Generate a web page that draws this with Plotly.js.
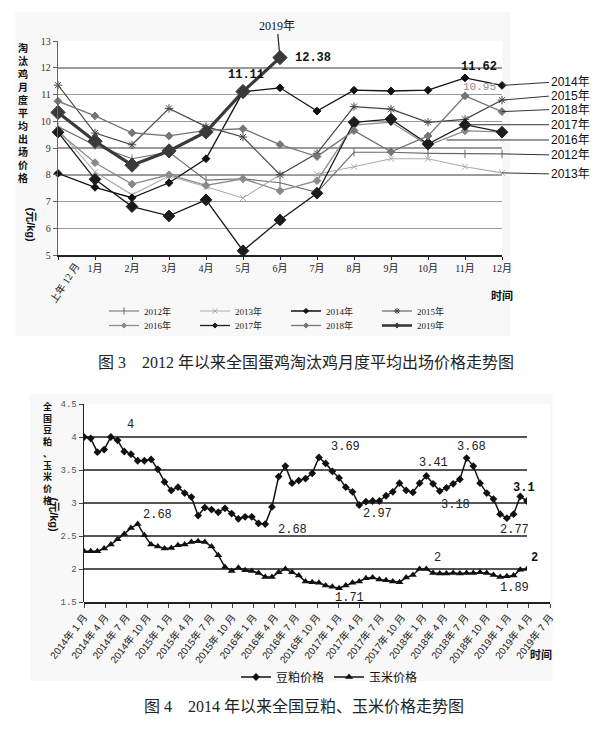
<!DOCTYPE html>
<html><head><meta charset="utf-8">
<script src="https://cdn.plot.ly/plotly-3.0.1.min.js"></script>
<style>html,body{margin:0;padding:0;background:#fff}#chart{width:600px;height:735px}</style>
</head><body><div id="chart"></div>
<script>
// ===== Figure 3: culled-hen monthly price (元/kg) =====
const months3 = ["上年12月","1月","2月","3月","4月","5月","6月","7月","8月","9月","10月","11月","12月"];
const monthTicks3 = ["","1月","2月","3月","4月","5月","6月","7月","8月","9月","10月","11月","12月"];
const p2012 = [9.80, 9.10, 8.60, 8.85, 7.80, 7.85, 7.70, 7.34, 8.84, 8.84, 8.80, 8.78, 8.78];
const p2013 = [9.70, 8.10, 7.25, 7.95, 7.55, 7.13, 8.00, 8.02, 8.30, 8.60, 8.60, 8.30, 8.07];
const p2014 = [8.05, 7.53, 7.14, 7.70, 8.60, 11.10, 11.25, 10.38, 11.16, 11.13, 11.16, 11.62, 11.34];
const p2015 = [11.35, 9.56, 9.12, 10.48, 9.80, 9.41, 8.00, 8.80, 10.55, 10.45, 9.96, 10.07, 10.79];
const p2016 = [9.60, 8.45, 7.65, 8.00, 7.60, 7.85, 7.40, 7.78, 9.86, 9.97, 9.10, 9.64, 9.60];
const p2017 = [9.59, 7.83, 6.81, 6.46, 7.06, 5.16, 6.31, 7.31, 9.96, 10.08, 9.15, 9.87, 9.59];
const p2018 = [10.75, 10.20, 9.57, 9.45, 9.66, 9.72, 9.13, 8.68, 9.65, 8.86, 9.45, 10.95, 10.36];
const p2019 = [10.33, 9.25, 8.36, 8.89, 9.60, 11.11, 12.38];

// ===== Figure 4: soybean meal & corn price (元/kg), monthly from 2014-01 =====
const soyMeal = [4.00,3.98,3.77,3.81,4.00,3.95,3.78,3.74,3.64,3.64,3.66,3.51,3.32,3.19,3.24,3.15,3.09,2.81,2.93,2.90,
  2.86,2.92,2.84,2.76,2.79,2.79,2.69,2.68,2.94,3.40,3.56,3.30,3.34,3.37,3.45,3.69,3.60,3.48,3.38,3.24,
  3.17,2.97,3.02,3.03,3.03,3.11,3.17,3.30,3.19,3.16,3.30,3.41,3.29,3.18,3.23,3.29,3.36,3.68,3.56,3.30,
  3.15,3.06,2.83,2.77,2.83,3.10,3.03];
const corn = [2.27,2.27,2.27,2.31,2.37,2.45,2.53,2.62,2.68,2.51,2.37,2.34,2.31,2.32,2.36,2.37,2.41,2.42,2.41,2.34,
  2.21,2.03,1.97,2.02,1.98,1.97,1.94,1.88,1.88,1.95,2.00,1.95,1.90,1.81,1.80,1.79,1.75,1.73,1.71,1.75,
  1.79,1.81,1.86,1.87,1.84,1.83,1.81,1.80,1.87,1.91,2.00,2.00,1.94,1.93,1.93,1.94,1.93,1.94,1.94,1.95,
  1.94,1.91,1.88,1.89,1.90,1.99,2.00];
const months4 = [];
for (let y = 2014; y <= 2019; y++) for (let m = 1; m <= 12; m++) months4.push(y + "-" + (m < 10 ? "0" + m : m));
const xMonths4 = months4.slice(0, soyMeal.length);
const tickLabels4 = ["2014年 1 月","2014年 4 月","2014年 7 月","2014年 10 月","2015年 1 月","2015年 4 月","2015年 7 月","2015年 10 月",
  "2016年 1 月","2016年 4 月","2016年 7 月","2016年 10 月","2017年 1 月","2017年 4 月","2017年 7 月","2017年 10 月",
  "2018年 1 月","2018年 4 月","2018年 7 月","2018年 10 月","2019年 1 月","2019年 4 月","2019年 7 月"];

// ---- pixel helpers for layout (page is 600 x 735, zero margins) ----
const W = 600, H = 735;
const PX = px => px / W;
const PY = py => 1 - py / H;

const CJK = "Noto Sans CJK SC";
const SERIF = "Liberation Serif, " + CJK;
const SANS = "Liberation Sans, " + CJK;
const MONO = "Liberation Mono, " + CJK;

const traces = [];
function series(name, y, color, width, symbol, size, legend) {
  traces.push({type: "scatter", mode: "lines+markers", name: name, x: months3.slice(0, y.length), y: y,
    xaxis: "x", yaxis: "y", showlegend: false, cliponaxis: false,
    line: {color: color, width: width},
    marker: {color: color, symbol: symbol, size: size, line: {color: color, width: 1}}, hoverinfo: "skip"});
  // legend-only entry with a small marker
  traces.push({type: "scatter", mode: "lines+markers", name: name, x: [null], y: [null],
    xaxis: "x", yaxis: "y", legend: legend, showlegend: true,
    line: {color: color, width: Math.min(width, 2.6)},
    marker: {color: color, symbol: symbol, size: symbol === "asterisk" || symbol === "x-thin" || symbol === "line-ns" ? 5 : 4,
      line: {color: color, width: 1}}, hoverinfo: "skip"});
}
series("2012年", p2012, "#6a6a6a", 1.1, "line-ns", 6, "legend");
series("2013年", p2013, "#ababab", 1.1, "x-thin", 6, "legend");
series("2014年", p2014, "#111111", 1.3, "diamond", 6, "legend");
series("2015年", p2015, "#454545", 1.2, "asterisk", 7, "legend");
series("2016年", p2016, "#8a8a8a", 1.3, "diamond", 6, "legend2");
series("2017年", p2017, "#1c1c1c", 1.3, "diamond", 9, "legend2");
series("2018年", p2018, "#767676", 1.3, "diamond", 6, "legend2");
series("2019年", p2019, "#3a3a3a", 3.2, "diamond", 11, "legend2");

traces.push({type: "scatter", mode: "markers", x: [], y: [], xaxis: "x3", yaxis: "y3", showlegend: false, hoverinfo: "skip"});
traces.push({type: "scatter", mode: "lines+markers", name: "豆粕价格", x: xMonths4, y: soyMeal, xaxis: "x2", yaxis: "y2",
  legend: "legend3", line: {color: "#111", width: 1.5}, marker: {color: "#111", symbol: "diamond", size: 6}, hoverinfo: "skip"});
traces.push({type: "scatter", mode: "lines+markers", name: "玉米价格", x: xMonths4, y: corn, xaxis: "x2", yaxis: "y2",
  legend: "legend3", line: {color: "#111", width: 1.5}, marker: {color: "#111", symbol: "triangle-up", size: 7}, hoverinfo: "skip"});

const ann = [];
// vertical (upright, stacked) axis titles
function stack(chars, x, yTop, size) {
  ann.push({xref: "paper", yref: "paper", x: PX(x), y: PY(yTop), text: Array.from(chars).join("<br>"),
    showarrow: false, xanchor: "center", yanchor: "top", borderpad: 0,
    font: {family: CJK, size: size, color: "#111", weight: "bold"}});
}
stack("淘汰鸡月度平均出场价格", 23, 39, 10);
ann.push({xref: "paper", yref: "paper", x: PX(23), y: PY(206), text: "(元/kg)", textangle: 90, showarrow: false, borderpad: 0,
  font: {family: SANS, size: 11, color: "#111", weight: "bold"}});
stack("全国豆粕、玉米价格", 47, 399, 9);
ann.push({xref: "paper", yref: "paper", x: PX(47), y: PY(533), text: "(元/kg)", textangle: 90, showarrow: false, borderpad: 0,
  font: {family: SANS, size: 11, color: "#111", weight: "bold"}});

// rotated first category label of figure 3
ann.push({xref: "paper", yref: "paper", x: PX(44), y: PY(283), text: "上年 12 月", textangle: -57, showarrow: false,
  font: {family: SERIF, size: 10, color: "#222"}});
// axis "时间" labels
ann.push({xref: "paper", yref: "paper", x: PX(515), y: PY(295), text: "时间", showarrow: false, font: {family: CJK, size: 11, color: "#111", weight: "bold"}});
ann.push({xref: "paper", yref: "paper", x: PX(554), y: PY(664), text: "时间", showarrow: false, font: {family: CJK, size: 11, color: "#111", weight: "bold"}});
// captions
ann.push({xref: "paper", yref: "paper", x: PX(306), y: PY(362), text: "图 3　2012 年以来全国蛋鸡淘汰鸡月度平均出场价格走势图",
  showarrow: false, font: {family: SERIF, size: 16, color: "#222"}});
ann.push({xref: "paper", yref: "paper", x: PX(304), y: PY(717), text: "图 4　2014 年以来全国豆粕、玉米价格走势图",
  showarrow: false, font: {family: SERIF, size: 16, color: "#222"}});

// figure 3 data labels
const numFontB = {family: MONO, size: 12, color: "#111", weight: "bold"};
ann.push({xref: "x", yref: "y", x: 6, y: p2019[6], text: "2019年", showarrow: true, arrowhead: 0, arrowwidth: 1.2,
  arrowcolor: "#222", ax: -3, ay: -32, standoff: 6, font: {family: SERIF, size: 12, color: "#111"}});
ann.push({xref: "x", yref: "y", x: 6, y: p2019[6], text: "12.38", showarrow: false, xanchor: "left", xshift: 13, font: numFontB});
ann.push({xref: "x", yref: "y", x: 5, y: p2019[5], text: "11.11", showarrow: false, yshift: 17, xshift: 3, font: numFontB});
ann.push({xref: "x", yref: "y", x: 11, y: p2014[11], text: "11.62", showarrow: false, yshift: 11, xshift: 14, font: numFontB});
ann.push({xref: "x", yref: "y", x: 11, y: p2018[11], text: "10.95", showarrow: false, yshift: 9, xshift: 14,
  font: {family: MONO, size: 11, color: "#8a8a8a"}});

// figure 3 series labels with leader lines
const seriesLabels = [
  {t: "2014年", x: 12, y: p2014[12], ay: -3},
  {t: "2015年", x: 12, y: p2015[12], ay: -4},
  {t: "2018年", x: 12, y: p2018[12], ay: -2},
  {t: "2017年", x: 11, y: p2017[11], ay: 0},
  {t: "2016年", x: 10.5, y: 9.30, ay: 0},
  {t: "2012年", x: 12, y: p2012[12], ay: 1},
  {t: "2013年", x: 12, y: p2013[12], ay: 1}
];
seriesLabels.forEach(s => {
  const xpx = 58 + s.x * 37;
  ann.push({xref: "x", yref: "y", x: s.x, y: s.y, text: s.t, showarrow: true, arrowhead: 0, arrowwidth: 1,
    arrowcolor: "#333", ax: 549 - xpx, ay: s.ay, xanchor: "left", standoff: 0,
    font: {family: SANS, size: 12, color: "#111"}});
});

// figure 4 data labels
const monoF = {family: MONO, size: 12, color: "#222"};
const monoFB = {family: MONO, size: 12, color: "#111", weight: "bold"};
[
  {t: "4", x: 7.0, y: 4.18, f: monoF},
  {t: "2.68", x: 10.9, y: 2.82, f: monoF},
  {t: "2.68", x: 31.1, y: 2.59, f: monoF},
  {t: "3.69", x: 38.9, y: 3.85, f: monoF},
  {t: "2.97", x: 43.7, y: 2.83, f: monoF},
  {t: "3.41", x: 52.1, y: 3.61, f: monoF},
  {t: "3.68", x: 57.7, y: 3.85, f: monoF},
  {t: "3.18", x: 55.3, y: 2.97, f: monoF},
  {t: "3.1", x: 65.6, y: 3.23, f: monoFB},
  {t: "2.77", x: 64.2, y: 2.59, f: monoF},
  {t: "2", x: 52.7, y: 2.17, f: monoF},
  {t: "2", x: 66, y: 2.17, f: monoFB, xs: 7},
  {t: "1.89", x: 64.2, y: 1.71, f: monoF},
  {t: "1.71", x: 39.5, y: 1.56, f: monoF}
].forEach(a => ann.push({xref: "x2", yref: "y2", x: a.x, y: a.y, text: a.t, showarrow: false, xshift: a.xs || 0, font: a.f}));

const legendCommon = {orientation: "h", xanchor: "left", yanchor: "middle", bgcolor: "rgba(0,0,0,0)",
  itemwidth: 30, font: {family: SERIF, size: 9, color: "#222"}, entrywidthmode: "pixels", entrywidth: 46,
  itemclick: false, itemdoubleclick: false};

const layout = {
  width: W, height: H, margin: {l: 0, r: 0, t: 0, b: 0},
  paper_bgcolor: "#ffffff", plot_bgcolor: "rgba(0,0,0,0)", showlegend: true,
  legend: Object.assign({}, legendCommon, {x: PX(104), y: PY(311)}),
  legend2: Object.assign({}, legendCommon, {x: PX(104), y: PY(325.5)}),
  legend3: Object.assign({}, legendCommon, {x: PX(236), y: PY(677), entrywidth: 0,
    font: {family: CJK, size: 12, color: "#111"}}),
  xaxis: {domain: [PX(58), PX(502)], anchor: "y", type: "category", range: [0, 12],
    tickmode: "array", tickvals: months3, ticktext: monthTicks3,
    showline: true, linecolor: "#222", linewidth: 2, ticks: "outside", ticklen: 3, tickcolor: "#222",
    tickfont: {family: SERIF, size: 10, color: "#222"}, showgrid: false, zeroline: false},
  yaxis: {domain: [PY(255), PY(41)], anchor: "x", range: [5, 13], dtick: 1,
    showline: true, linecolor: "#666", linewidth: 1.2, ticks: "outside", ticklen: 4, tickcolor: "#666",
    tickfont: {family: SERIF, size: 10, color: "#333"}, gridcolor: "#9a9a9a", gridwidth: 1.5, zeroline: false},
  xaxis2: {domain: [PX(84), PX(527)], anchor: "y2", type: "category", range: [0, 66], visible: false, showgrid: false},
  yaxis2: {domain: [PY(602), PY(404)], anchor: "x2", range: [1.5, 4.5], dtick: 0.5,
    showline: true, linecolor: "#222", linewidth: 1.5, ticks: "outside", ticklen: 4, tickcolor: "#444",
    tickfont: {family: MONO, size: 9, color: "#555"}, gridcolor: "#555", gridwidth: 1.3, zeroline: false},
  xaxis3: {domain: [PX(84), PX(550)], anchor: "y3", range: [0, 22], tickmode: "array",
    tickvals: tickLabels4.map((_, i) => i), ticktext: tickLabels4, tickangle: -52,
    showline: true, linecolor: "#222", linewidth: 1.5, ticks: "outside", ticklen: 4, tickcolor: "#444",
    tickfont: {family: SANS, size: 10, color: "#222"}, showgrid: false, zeroline: false},
  yaxis3: {domain: [PY(602), PY(404)], anchor: "x3", range: [1.5, 4.5], visible: false, showgrid: false},
  shapes: [
    {type: "rect", xref: "paper", yref: "paper", x0: PX(15), x1: PX(510), y0: PY(336), y1: PY(12),
     fillcolor: "#f8f8f8", line: {width: 0}, layer: "below"},
    {type: "rect", xref: "paper", yref: "paper", x0: PX(30), x1: PX(553), y0: PY(681), y1: PY(394),
     fillcolor: "#f8f8f8", line: {width: 0}, layer: "below"},
    {type: "rect", xref: "paper", yref: "paper", x0: PX(58), x1: PX(502), y0: PY(255), y1: PY(41),
     fillcolor: "#ffffff", line: {width: 0}, layer: "below"},
    {type: "rect", xref: "paper", yref: "paper", x0: PX(84), x1: PX(550), y0: PY(602), y1: PY(404),
     fillcolor: "#ffffff", line: {width: 0}, layer: "below"}
  ],
  annotations: ann
};

Plotly.newPlot("chart", traces, layout, {displayModeBar: false, staticPlot: true});
</script>
</body></html>
